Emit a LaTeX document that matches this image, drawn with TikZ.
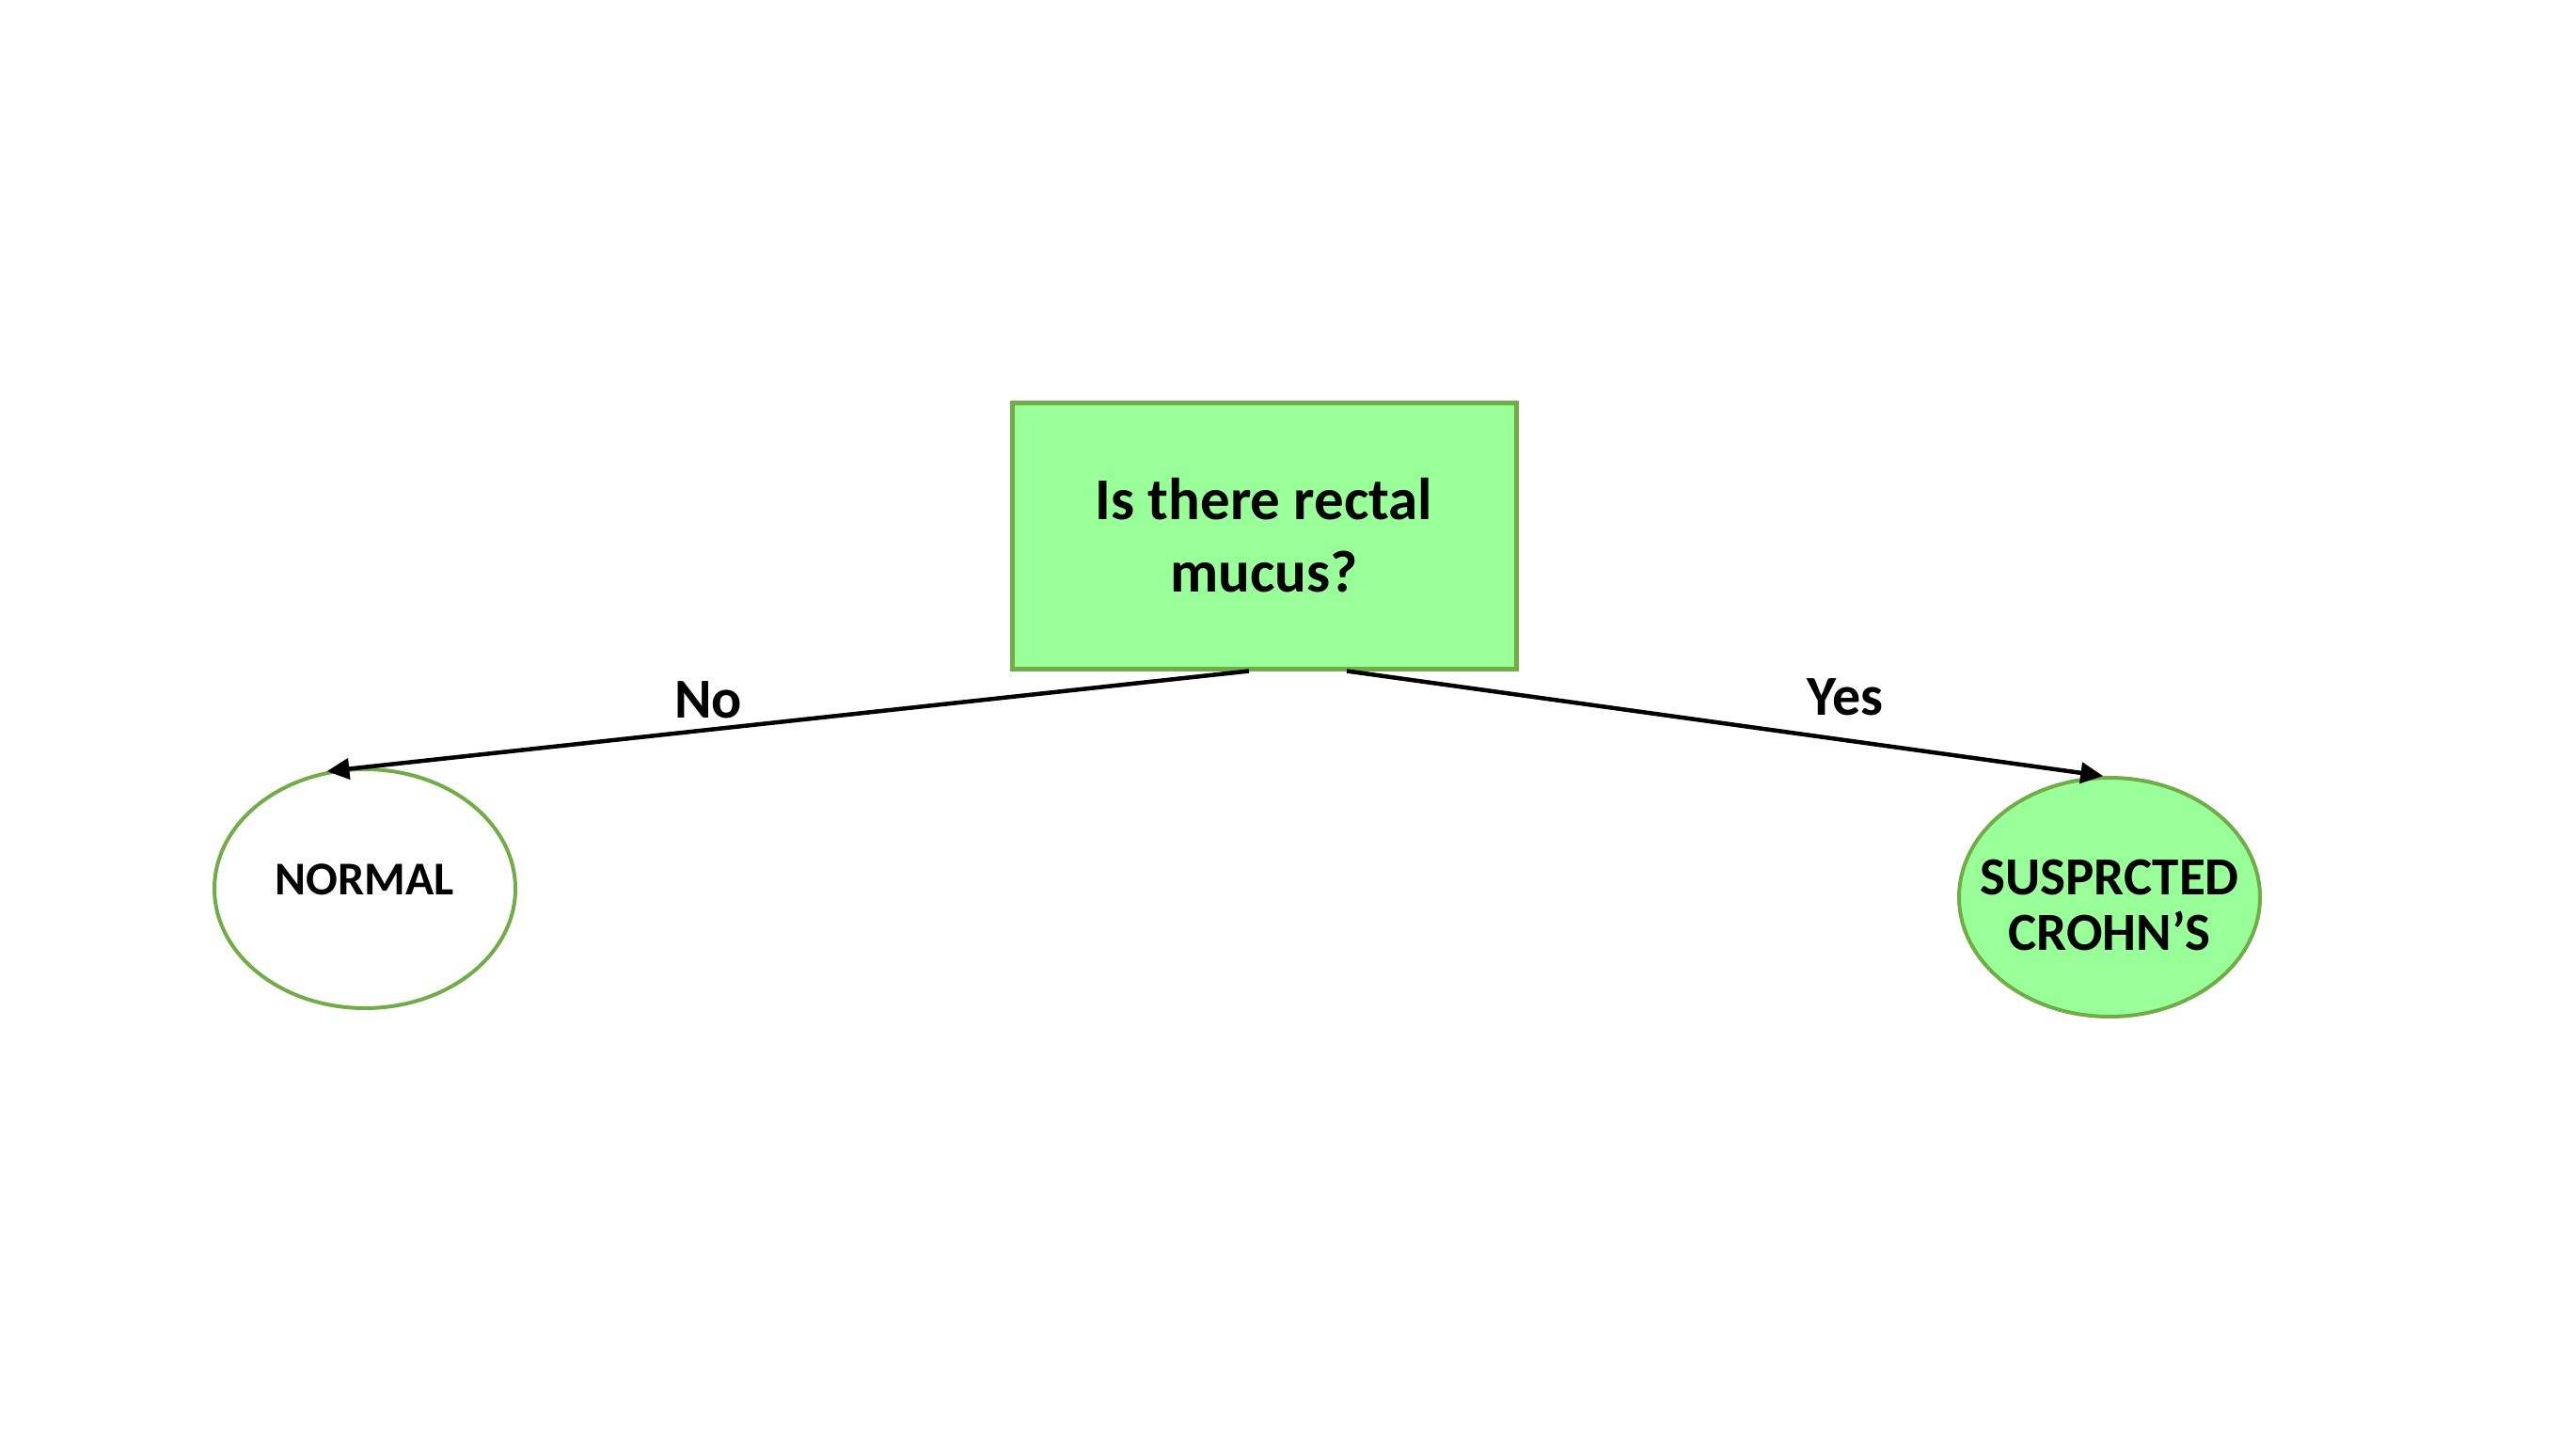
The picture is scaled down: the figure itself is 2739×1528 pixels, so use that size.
\documentclass[tikz,border=0pt]{standalone}
\usepackage{fontspec}
\setmainfont{Carlito}
\usetikzlibrary{shapes.geometric,arrows.meta}
\definecolor{edgegreen}{HTML}{70AD47}
\definecolor{fillgreen}{HTML}{99FF99}
\tikzset{
  qbox/.style={draw=edgegreen,fill=fillgreen,line width=5pt,minimum width=536pt,minimum height=283pt,inner sep=0pt,align=center,font=\bfseries\fontsize{63}{77}\selectfont},
  outcome/.style={ellipse,draw=edgegreen,line width=4pt,minimum width=320pt,minimum height=254pt,inner sep=0pt},
  conn/.style={line width=4.5pt,-{Triangle[length=24pt,width=22pt]}},
  edgelabel/.style={font=\bfseries\fontsize{60}{72}\selectfont,inner sep=0pt}
}
\begin{document}
\begin{tikzpicture}[x=1pt,y=-1pt]
\useasboundingbox (0,0) rectangle (2739,1528);
\node[qbox] (q) at (1344,569.5) {Is there rectal\\mucus?};
\node[outcome,fill=white,label={[font=\bfseries\fontsize{50}{60}\selectfont,inner sep=0pt,yshift=10pt]center:NORMAL}] (normal) at (388,945) {};
\node[outcome,fill=fillgreen,label={[font=\bfseries\fontsize{57}{59}\selectfont,align=center,inner sep=0pt,yshift=-8pt]center:SUSPRCTED\\CROHN’S}] (crohn) at (2243,954) {};
\draw[conn] ([xshift=-16pt]q.south) -- (normal.108);
\draw[conn] ([xshift=88pt]q.south) -- (crohn.93);
\node[edgelabel] (no) at (753,744) {No};
\node[edgelabel] (yes) at (1962,741) {Yes};
\end{tikzpicture}
\end{document}
